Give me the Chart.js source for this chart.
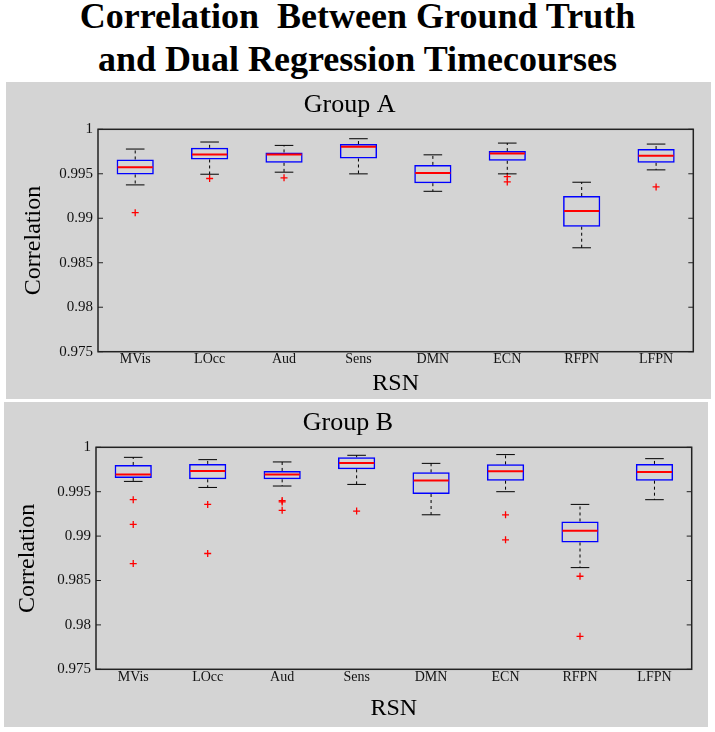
<!DOCTYPE html>
<html>
<head>
<meta charset="utf-8">
<script src="https://cdn.jsdelivr.net/npm/chart.js@4.4.1/dist/chart.umd.min.js"></script>
<style>
  html, body { margin: 0; padding: 0; background: #ffffff; }
  body { width: 715px; height: 732px; position: relative; overflow: hidden; }
  #mainTitle {
    position: absolute; left: 0; top: -5px; width: 715px;
    text-align: center; font-family: 'Liberation Serif', 'Times New Roman', serif;
    font-weight: bold; font-size: 36px; line-height: 43px; color: #000;
  }
  .panel { position: absolute; background: #d4d4d4; }
  #panelA { left: 6px; top: 82px; width: 705px; height: 317px; }
  #panelB { left: 4px; top: 402px; width: 704px; height: 325px; }
</style>
</head>
<body>
<div id="mainTitle">Correlation&nbsp; Between Ground Truth<br>and Dual Regression Timecourses</div>
<div class="panel" id="panelA"><canvas id="chartA"></canvas></div>
<div class="panel" id="panelB"><canvas id="chartB"></canvas></div>
<script>
// ---------------- data ----------------
const categories = ['MVis', 'LOcc', 'Aud', 'Sens', 'DMN', 'ECN', 'RFPN', 'LFPN'];
const yTicks = [0.975, 0.98, 0.985, 0.99, 0.995, 1];
const yTickLabels = ['0.975', '0.98', '0.985', '0.99', '0.995', '1'];

// Group A
const aLow  = [0.99375, 0.99495, 0.99518, 0.99499, 0.99303, 0.99499, 0.98668, 0.99544];
const aQ1   = [0.99492, 0.99661, 0.99623, 0.99672, 0.99394, 0.99646, 0.98905, 0.99623];
const aMed  = [0.99574, 0.99718, 0.99718, 0.99804, 0.99510, 0.99729, 0.99081, 0.99702];
const aQ3   = [0.99661, 0.99792, 0.99740, 0.99834, 0.99600, 0.99755, 0.99250, 0.99778];
const aHigh = [0.99778, 0.99857, 0.99819, 0.99894, 0.99713, 0.99845, 0.99405, 0.99834];
const aOut  = [[0.99063], [0.99447], [0.99454], [], [], [0.99469, 0.99408], [], [0.99352]];

// Group B
const bLow  = [0.99616, 0.99548, 0.99564, 0.99582, 0.99240, 0.99500, 0.98645, 0.99410];
const bQ1   = [0.99655, 0.99639, 0.99639, 0.99752, 0.99474, 0.99624, 0.98928, 0.99624];
const bMed  = [0.99695, 0.99734, 0.99695, 0.99824, 0.99627, 0.99729, 0.99060, 0.99722];
const bQ3   = [0.99801, 0.99813, 0.99734, 0.99887, 0.99718, 0.99808, 0.99165, 0.99813];
const bHigh = [0.99887, 0.99861, 0.99835, 0.99910, 0.99819, 0.99918, 0.99357, 0.99872];
const bOut  = [[0.99410, 0.99131, 0.98691], [0.99357, 0.98804], [0.99400, 0.99385, 0.99290], [0.99282], [], [0.99240, 0.98958], [0.98548, 0.97871], []];

// ---------------- drawing ----------------
Chart.defaults.font.family = "'Liberation Serif', 'Times New Roman', serif";
Chart.defaults.color = '#111';

const boxPlugin = {
  id: 'boxPlot',
  afterDatasetsDraw(chart, args, opts) {
    const {ctx, chartArea, scales} = chart;
    const x = scales.x, y = scales.y;
    const meta = chart.getDatasetMeta(0);
    const seg = (x1, y1, x2, y2) => { ctx.beginPath(); ctx.moveTo(x1, y1); ctx.lineTo(x2, y2); ctx.stroke(); };
    ctx.save();
    opts.med.forEach((m, i) => {
      const cx = x.getPixelForValue(i);
      const w = meta.data[i].width;
      const yHi = y.getPixelForValue(opts.hi[i]);
      const yLo = y.getPixelForValue(opts.lo[i]);
      const yQ1 = y.getPixelForValue(opts.q1[i]);
      const yQ3 = y.getPixelForValue(opts.q3[i]);
      const yM = y.getPixelForValue(m);
      ctx.strokeStyle = '#000';
      ctx.lineWidth = 1;
      ctx.setLineDash([3, 3]);
      seg(cx, yQ3, cx, yHi);
      seg(cx, yQ1, cx, yLo);
      ctx.setLineDash([]);
      seg(cx - w / 4, yHi, cx + w / 4, yHi);
      seg(cx - w / 4, yLo, cx + w / 4, yLo);
      ctx.strokeStyle = '#ff0000';
      ctx.lineWidth = 2;
      seg(cx - w / 2 + 1, yM, cx + w / 2 - 1, yM);
    });
    // frame
    ctx.strokeStyle = '#222';
    ctx.lineWidth = 1.5;
    ctx.strokeRect(chartArea.left, chartArea.top, chartArea.right - chartArea.left, chartArea.bottom - chartArea.top);
    // inward ticks on left and right
    ctx.lineWidth = 1;
    y.ticks.forEach(t => {
      const yp = y.getPixelForValue(t.value);
      seg(chartArea.left, yp, chartArea.left + 5, yp);
      seg(chartArea.right - 5, yp, chartArea.right, yp);
    });
    ctx.restore();
  }
};

function makeChart(id, title, lo, q1, med, q3, hi, out, lay) {
  const outPts = [];
  out.forEach((arr, i) => arr.forEach(v => outPts.push({x: categories[i], y: v})));
  return new Chart(document.getElementById(id), {
    type: 'bar',
    data: {
      labels: categories,
      datasets: [
        {
          type: 'bar',
          data: q1.map((v, i) => [v, q3[i]]),
          backgroundColor: 'rgba(0,0,0,0)',
          borderColor: '#0000ff',
          borderWidth: 1.5,
          borderSkipped: false,
          barPercentage: 0.5,
          categoryPercentage: 1,
          grouped: false
        },
        {
          type: 'scatter',
          data: outPts,
          pointStyle: 'cross',
          radius: 3.5,
          borderColor: '#ff0000',
          backgroundColor: '#ff0000',
          borderWidth: 1.3
        }
      ]
    },
    options: {
      responsive: true,
      maintainAspectRatio: false,
      animation: false,
      events: [],
      layout: { padding: { left: 0, right: lay.right, top: 0, bottom: 0 } },
      plugins: {
        legend: { display: false },
        tooltip: { enabled: false },
        title: {
          display: true,
          text: title,
          color: '#000',
          font: { size: 26, weight: 'normal', lineHeight: 1.2 },
          padding: { top: lay.titleTop, bottom: lay.titleBottom }
        },
        boxPlot: { lo: lo, q1: q1, med: med, q3: q3, hi: hi }
      },
      scales: {
        x: {
          type: 'category',
          offset: true,
          grid: { display: false, drawTicks: false },
          border: { display: false },
          ticks: { font: { size: 14, lineHeight: 1 }, padding: 1, color: '#111', maxRotation: 0, autoSkip: false },
          title: { display: true, text: 'RSN', color: '#000', font: { size: 24, lineHeight: 1.2 }, padding: { top: 0, bottom: lay.xTitleBottom } },
          afterFit: s => { s.height = lay.xHeight; }
        },
        y: {
          type: 'linear',
          min: 0.975,
          max: 1,
          grid: { display: false, drawTicks: false },
          border: { display: false },
          afterBuildTicks: s => { s.ticks = yTicks.map(v => ({ value: v })); },
          ticks: {
            font: { size: 15 },
            padding: 5,
            color: '#111',
            callback: (v, i) => yTickLabels[i]
          },
          title: { display: true, text: 'Correlation', color: '#000', font: { size: 24, lineHeight: 1.2 }, padding: { top: lay.yTitleTop, bottom: 0 } },
          afterFit: s => { s.width = lay.yWidth; }
        }
      }
    },
    plugins: [boxPlugin]
  });
}

makeChart('chartA', 'Group A', aLow, aQ1, aMed, aQ3, aHigh, aOut,
  { right: 17.7, titleTop: 7.4, titleBottom: 8.7, xHeight: 47.3, xTitleBottom: 0.5, yWidth: 92, yTitleTop: 13 });
makeChart('chartB', 'Group B', bLow, bQ1, bMed, bQ3, bHigh, bOut,
  { right: 16.3, titleTop: 5.4, titleBottom: 8.7, xHeight: 57.7, xTitleBottom: 3.6, yWidth: 92, yTitleTop: 9 });
</script>
</body>
</html>
